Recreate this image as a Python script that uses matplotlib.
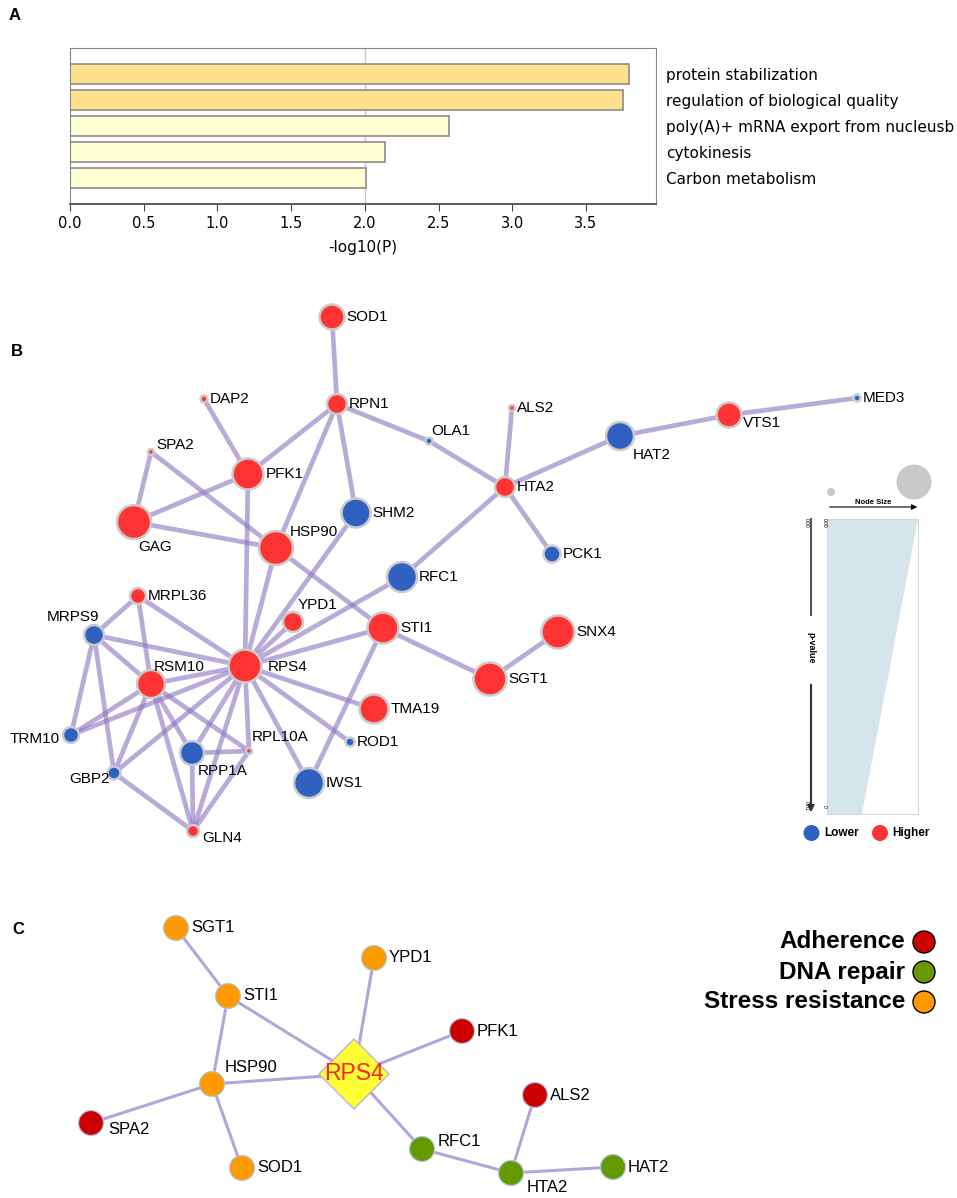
import matplotlib
matplotlib.use('Agg')
import matplotlib.pyplot as plt
from matplotlib.patches import Circle, Polygon, Rectangle

plt.rcParams['font.family'] = ['Liberation Sans', 'DejaVu Sans']

# ---------------- data ----------------
# panel A: enrichment
terms = ['protein stabilization', 'regulation of biological quality',
         'poly(A)+ mRNA export from nucleusb', 'cytokinesis', 'Carbon metabolism']
logp = [3.79, 3.75, 2.57, 2.14, 2.01]

# panel B: network (layout in pixels, radius in pixels, expression level)
b_genes = ['SOD1', 'RPN1', 'DAP2', 'SPA2', 'PFK1', 'GAG', 'HSP90', 'SHM2', 'OLA1',
           'ALS2', 'HTA2', 'HAT2', 'VTS1', 'MED3', 'PCK1', 'RFC1', 'STI1', 'SNX4',
           'SGT1', 'TMA19', 'ROD1', 'YPD1', 'MRPL36', 'MRPS9', 'RSM10', 'RPS4',
           'TRM10', 'GBP2', 'RPP1A', 'RPL10A', 'IWS1', 'GLN4']
b_x = [332, 337, 204, 151, 248, 134, 276, 356, 429, 512, 505, 620, 729, 857, 552,
       402, 383, 558, 490, 374, 350, 293, 138, 94, 151, 245, 71, 114, 192, 249, 309, 193]
b_y = [317, 404, 399, 452, 474, 522, 548, 513, 441, 408, 487, 436, 415, 398, 554,
       577, 628, 632, 679, 709, 742, 622, 596, 635, 684, 666, 735, 773, 753, 751, 783, 831]
b_r = [12.5, 10, 3.5, 3, 15.5, 17, 17, 14.5, 3.5, 3, 10, 14, 12.5, 3.5, 8.5,
       15, 15.5, 16.5, 16.5, 14.5, 4.5, 10, 8, 10, 14, 16.5, 8, 6.5, 12, 3, 15, 6]
b_level = ['H', 'H', 'H', 'H', 'H', 'H', 'H', 'L', 'L', 'H', 'H', 'L', 'H', 'L', 'L',
           'L', 'H', 'H', 'H', 'H', 'L', 'H', 'H', 'L', 'H', 'H', 'L', 'L', 'L', 'H', 'L', 'H']
b_edges = [('SOD1', 'RPN1'), ('RPN1', 'PFK1'), ('RPN1', 'HSP90'), ('RPN1', 'SHM2'),
           ('RPN1', 'OLA1'), ('OLA1', 'HTA2'), ('DAP2', 'PFK1'), ('SPA2', 'GAG'),
           ('SPA2', 'HSP90'), ('PFK1', 'GAG'), ('GAG', 'HSP90'), ('PFK1', 'RPS4'),
           ('HSP90', 'RPS4'), ('HSP90', 'STI1'), ('SHM2', 'RPS4'), ('HTA2', 'RFC1'),
           ('RFC1', 'RPS4'), ('YPD1', 'RPS4'), ('STI1', 'RPS4'), ('STI1', 'SGT1'),
           ('STI1', 'IWS1'), ('SGT1', 'SNX4'), ('HTA2', 'ALS2'), ('HTA2', 'HAT2'),
           ('HAT2', 'VTS1'), ('VTS1', 'MED3'), ('HTA2', 'PCK1'), ('TMA19', 'RPS4'),
           ('ROD1', 'RPS4'), ('IWS1', 'RPS4'), ('RPS4', 'MRPL36'), ('RPS4', 'MRPS9'),
           ('RPS4', 'RSM10'), ('RPS4', 'TRM10'), ('RPS4', 'GBP2'), ('RPS4', 'RPP1A'),
           ('RPS4', 'GLN4'), ('RPS4', 'RPL10A'), ('MRPL36', 'MRPS9'), ('MRPL36', 'RSM10'),
           ('MRPS9', 'RSM10'), ('MRPS9', 'TRM10'), ('MRPS9', 'GBP2'), ('RSM10', 'TRM10'),
           ('RSM10', 'GBP2'), ('RSM10', 'RPP1A'), ('RSM10', 'GLN4'), ('RSM10', 'RPL10A'),
           ('RPP1A', 'RPL10A'), ('RPP1A', 'GLN4'), ('GBP2', 'GLN4'), ('RPL10A', 'GLN4')]

# panel C: RPS4 sub-network
c_genes = ['SGT1', 'YPD1', 'STI1', 'PFK1', 'HSP90', 'SPA2', 'ALS2', 'RFC1',
           'SOD1', 'HTA2', 'HAT2']
c_x = [176, 374, 228, 462, 212, 91, 535, 422, 242, 511, 613]
c_y = [928, 958, 996, 1031, 1084, 1123, 1095, 1149, 1168, 1173, 1167]
c_cat = ['Stress resistance', 'Stress resistance', 'Stress resistance', 'Adherence',
         'Stress resistance', 'Adherence', 'Adherence', 'DNA repair',
         'Stress resistance', 'DNA repair', 'DNA repair']
c_hub = ('RPS4', 354, 1074)
c_edges = [('SGT1', 'STI1'), ('STI1', 'HSP90'), ('STI1', 'RPS4'), ('YPD1', 'RPS4'),
           ('PFK1', 'RPS4'), ('HSP90', 'RPS4'), ('HSP90', 'SPA2'), ('HSP90', 'SOD1'),
           ('RPS4', 'RFC1'), ('RFC1', 'HTA2'), ('HTA2', 'ALS2'), ('HTA2', 'HAT2')]
categories = ['Adherence', 'DNA repair', 'Stress resistance']

# ---------------- styles ----------------
level_col = {'H': '#FF3333', 'L': '#3060C0'}
cat_col = {'Adherence': '#CC0000', 'DNA repair': '#669900', 'Stress resistance': '#FF9900'}
# label offsets (dx, dy, ha) where the label is not simply right of the node
b_lab = {'SPA2': (5, -7, 'left'), 'GAG': (21, 25, 'center'), 'HSP90': (14, -16, 'left'),
         'OLA1': (2, -10, 'left'), 'HAT2': (13, 19, 'left'), 'VTS1': (14, 8, 'left'),
         'YPD1': (5, -17, 'left'), 'MRPS9': (-21, -18, 'center'), 'RSM10': (3, -17, 'left'),
         'TRM10': (-11, 4, 'right'), 'GBP2': (-4, 6, 'right'), 'RPP1A': (6, 18, 'left'),
         'RPL10A': (3, -14, 'left'), 'GLN4': (9, 7, 'left'), 'RPS4': (23, 1, 'left')}
c_lab = {'HSP90': (13, -17), 'SPA2': (17, 6), 'RFC1': (16, -7), 'HTA2': (16, 15)}

fig = plt.figure(figsize=(9.57, 11.98), dpi=100)
ax = fig.add_axes([0, 0, 1, 1])
ax.set_xlim(0, 957)
ax.set_ylim(1198, 0)
ax.axis('off')

# panel letters
for letter, (lx, ly) in zip('ABC', [(9, 15), (11, 351), (12, 929)]):
    ax.text(lx, ly, letter, fontsize=12, fontweight='bold', va='center', ha='left')

# ---------------- panel A ----------------
axA = fig.add_axes([70 / 957, 1 - 204 / 1198, 586 / 957, 156 / 1198])
bar_cols = ['#FFE08C' if v > 3 else '#FFFFD4' for v in logp]
axA.barh(range(len(terms)), logp, height=0.8, color=bar_cols,
         edgecolor='#8C8C8C', linewidth=1.2, zorder=2)
axA.axvline(2.0, color='#C8C8C8', lw=1, zorder=1)
axA.set_xlim(0, 3.975)
axA.set_ylim(5, -1)
axA.set_xticks([0, 0.5, 1.0, 1.5, 2.0, 2.5, 3.0, 3.5])
axA.set_xticklabels(['%.1f' % t for t in axA.get_xticks()], family='DejaVu Sans', fontsize=10.5)
axA.set_yticks(range(len(terms)))
axA.set_yticklabels(terms, family='DejaVu Sans', fontsize=11)
axA.yaxis.tick_right()
axA.tick_params(axis='y', length=0, pad=7)
axA.tick_params(axis='x', length=5, color='#444444', pad=4)
axA.set_xlabel('-log10(P)', family='DejaVu Sans', fontsize=11, labelpad=6)
for s in ['top', 'left', 'right']:
    axA.spines[s].set_color('#888888')
axA.spines['bottom'].set_color('#444444')
axA.spines['bottom'].set_linewidth(1.2)

# ---------------- panel B ----------------
bpos = {g: (x, y) for g, x, y in zip(b_genes, b_x, b_y)}
for a, b in b_edges:
    ax.plot([bpos[a][0], bpos[b][0]], [bpos[a][1], bpos[b][1]], color='#8A74C0',
            alpha=0.6, lw=3.4, solid_capstyle='butt', zorder=1)
for g, x, y, r, lv in zip(b_genes, b_x, b_y, b_r, b_level):
    ax.add_patch(Circle((x, y), r, facecolor=level_col[lv], edgecolor='#C9CCCB',
                        lw=1.8, zorder=2))
    dx, dy, ha = b_lab.get(g, (r + 2, 0, 'left'))
    ax.text(x + dx, y + dy, g, fontsize=11, ha=ha, va='center', zorder=3)

# node size / p-value legend
ax.add_patch(Circle((831, 492), 4, color='#C8C8C8', lw=0))
ax.add_patch(Circle((914, 482), 17.5, color='#C8C8C8', lw=0))
ax.annotate('', xy=(920, 507), xytext=(827, 507),
            arrowprops=dict(arrowstyle='-|>', color='black', lw=0.8, mutation_scale=8))
ax.text(873, 503, 'Node Size', fontsize=5.5, ha='center', va='center', fontweight='bold')
ax.add_patch(Polygon([(827, 519), (918, 519), (862, 814), (827, 814)],
                     closed=True, facecolor='#D6E4EC', lw=0))
ax.add_patch(Rectangle((827, 519), 91, 295, fill=False, edgecolor='#D8D8D8', lw=0.8))
ax.plot([811, 811], [519, 615], color='#555555', lw=1.5)
ax.annotate('', xy=(811, 815), xytext=(811, 682),
            arrowprops=dict(arrowstyle='-|>', color='#333333', lw=1.5, mutation_scale=9))
ax.text(811, 648, 'p-value', rotation=-90, fontsize=6.5, fontweight='bold',
        ha='center', va='center')
ax.text(806, 523, '0.00', rotation=-90, fontsize=3.5, ha='center', va='center')
ax.text(824, 523, '0.00', rotation=-90, fontsize=3.5, ha='center', va='center')
ax.text(806, 806, '0.01', rotation=-90, fontsize=3.5, ha='center', va='center')
ax.text(824, 806, '0', rotation=-90, fontsize=3.5, ha='center', va='center')
ax.add_patch(Circle((811.5, 833), 8, color=level_col['L'], lw=0))
ax.text(824, 833, 'Lower', fontsize=8.5, fontweight='bold', va='center')
ax.add_patch(Circle((880, 833), 8, color=level_col['H'], lw=0))
ax.text(892, 833, 'Higher', fontsize=8.5, fontweight='bold', va='center')

# ---------------- panel C ----------------
cpos = {g: (x, y) for g, x, y in zip(c_genes, c_x, c_y)}
cpos[c_hub[0]] = (c_hub[1], c_hub[2])
for a, b in c_edges:
    ax.plot([cpos[a][0], cpos[b][0]], [cpos[a][1], cpos[b][1]], color='#B4A4D8',
            lw=2.2, zorder=1)
for g, x, y, cat in zip(c_genes, c_x, c_y, c_cat):
    ax.add_patch(Circle((x, y), 12.5, facecolor=cat_col[cat], edgecolor='#A8CCE0',
                        lw=0.9, zorder=2))
    dx, dy = c_lab.get(g, (15, 0))
    ax.text(x + dx, y + dy, g, fontsize=12, va='center', ha='left', zorder=3)
hx, hy = c_hub[1], c_hub[2]
ax.add_patch(Polygon([(hx - 35, hy), (hx, hy - 35), (hx + 35, hy), (hx, hy + 35)],
                     closed=True, facecolor='#FFFF33', edgecolor='#B8B0D8', lw=1, zorder=2))
ax.text(hx, hy, c_hub[0], color='#FF2222', fontsize=16.5, ha='center', va='center', zorder=3)

for i, cat in enumerate(categories):
    yy = 942 + i * 30
    ax.text(905, yy, cat, fontsize=17.5, fontweight='bold', ha='right', va='center')
    ax.add_patch(Circle((924, yy), 11, facecolor=cat_col[cat], edgecolor='black', lw=1))

fig.savefig('out.png', dpi=100)
